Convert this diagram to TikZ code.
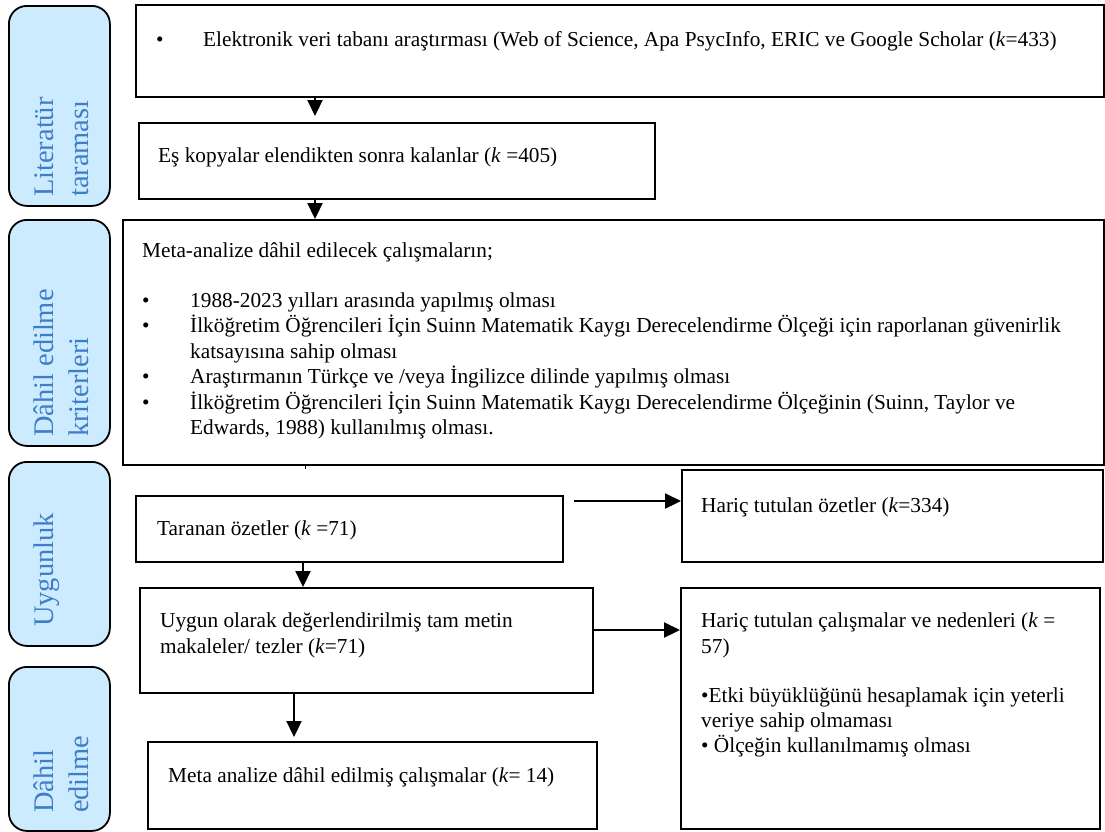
\documentclass[tikz,border=0pt]{standalone}
\usepackage{fontspec}
\setmainfont{Liberation Serif}
\usetikzlibrary{arrows.meta}
\definecolor{lblfill}{RGB}{204,235,255}
\definecolor{lbltext}{RGB}{62,125,200}
\begin{document}
\begin{tikzpicture}[x=1pt,y=-1pt,
  box/.style={draw=black, line width=1.8pt, fill=white, rectangle, anchor=north west, inner sep=0pt},
  lbl/.style={draw=black, line width=1.8pt, fill=lblfill, rounded corners=18pt, rectangle, anchor=north west, inner sep=0pt},
  lbltxt/.style={text=lbltext, font=\fontsize{28.4}{34}\selectfont, rotate=90, anchor=base west, inner sep=0pt},
  txt/.style={font=\fontsize{21.3}{25.3}\selectfont, anchor=base west, inner sep=0pt},
  arr/.style={line width=2.2pt, -{Triangle[length=16pt,width=15pt]}}
]
\useasboundingbox (0,0) rectangle (1105,831);
\fill[white] (0,0) rectangle (1105,831);

% side labels
\node[lbl, minimum width=101pt, minimum height=200pt] (L1) at (8,5) {};
\node[lbl, minimum width=101pt, minimum height=226pt] (L2) at (8,219) {};
\node[lbl, minimum width=101pt, minimum height=184pt] (L3) at (8,461) {};
\node[lbl, minimum width=101pt, minimum height=164pt] (L4) at (8,666) {};
\node[lbltxt] (l1a) at (53,197) {Literatür};
\node[lbltxt] (l1b) at (88,197) {taraması};
\node[lbltxt] (l2a) at (53,437) {Dâhil edilme};
\node[lbltxt] (l2b) at (88,437) {kriterleri};
\node[lbltxt] (l3a) at (53,627) {Uygunluk};
\node[lbltxt] (l4a) at (53,813) {Dâhil};
\node[lbltxt] (l4b) at (88,813) {edilme};

% boxes
\node[box, minimum width=968pt, minimum height=92pt] (A) at (135,4) {};
\node[box, minimum width=516pt, minimum height=76pt] (B) at (138,122) {};
\node[box, minimum width=981pt, minimum height=245pt] (C) at (122,219) {};
\node[box, minimum width=427pt, minimum height=66pt] (D) at (135,495) {};
\node[box, minimum width=453pt, minimum height=105pt] (E) at (139,587) {};
\node[box, minimum width=449pt, minimum height=87pt] (G) at (147,741) {};
\node[box, minimum width=421pt, minimum height=92pt] (F1) at (681,469) {};
\node[box, minimum width=419pt, minimum height=241pt] (F2) at (680,587) {};

% texts
\node[txt] (ta0) at (156,46) {•};
\node[txt] (ta) at (203,46) {Elektronik veri tabanı araştırması (Web of Science, Apa PsycInfo, ERIC ve Google Scholar (\textit{k}=433)};
\node[txt] (tb) at (158,162) {Eş kopyalar elendikten sonra kalanlar (\textit{k} =405)};
\node[txt] (tc0) at (142,257) {Meta-analize dâhil edilecek çalışmaların;};
\node[txt] (bc1) at (142,307) {•};
\node[txt] (bc2) at (142,332.5) {•};
\node[txt] (bc3) at (142,383.5) {•};
\node[txt] (bc4) at (142,409) {•};
\node[txt] (tc1) at (190,307) {1988-2023 yılları arasında yapılmış olması};
\node[txt] (tc2) at (190,332.5) {İlköğretim Öğrencileri İçin Suinn Matematik Kaygı Derecelendirme Ölçeği için raporlanan güvenirlik};
\node[txt] (tc3) at (190,358) {katsayısına sahip olması};
\node[txt] (tc4) at (190,383.5) {Araştırmanın Türkçe ve /veya İngilizce dilinde yapılmış olması};
\node[txt] (tc5) at (190,409) {İlköğretim Öğrencileri İçin Suinn Matematik Kaygı Derecelendirme Ölçeğinin (Suinn, Taylor ve};
\node[txt] (tc6) at (190,434.5) {Edwards, 1988) kullanılmış olması.};
\node[txt] (td) at (157,535) {Taranan özetler (\textit{k} =71)};
\node[txt] (te1) at (160,627) {Uygun olarak değerlendirilmiş tam metin};
\node[txt] (te2) at (160,653) {makaleler/ tezler (\textit{k}=71)};
\node[txt] (tg) at (168,782) {Meta analize dâhil edilmiş çalışmalar (\textit{k}= 14)};
\node[txt] (tf1) at (701,512) {Hariç tutulan özetler (\textit{k}=334)};
\node[txt] (tf2a) at (701,627) {Hariç tutulan çalışmalar ve nedenleri (\textit{k} =};
\node[txt] (tf2b) at (701,653) {57)};
\node[txt] (tf2c) at (701,702) {•Etki büyüklüğünü hesaplamak için yeterli};
\node[txt] (tf2d) at (701,727) {veriye sahip olmaması};
\node[txt] (tf2e) at (701,752) {• Ölçeğin kullanılmamış olması};

% connector positions
\coordinate (x1) at (315,0);
\coordinate (x2) at (303,0);
\coordinate (x3) at (294,0);
\coordinate (s1) at (574,501);
\coordinate (y2) at (0,630);
\coordinate (x4) at (305,0);

% arrows
\draw[arr, shorten >=6pt] (A.south -| x1) -- (B.north -| x1);
\draw[arr] (B.south -| x1) -- (C.north -| x1);
\draw[arr] (D.south -| x2) -- (E.north -| x2);
\draw[arr, shorten >=4pt] (E.south -| x3) -- (G.north -| x3);
\draw[arr] (s1) -- (F1.west |- s1);
\draw[arr] (E.east |- y2) -- (F2.west |- y2);
\draw[line width=1pt] (C.south -| x4) -- ++(0,3);
\end{tikzpicture}
\end{document}
